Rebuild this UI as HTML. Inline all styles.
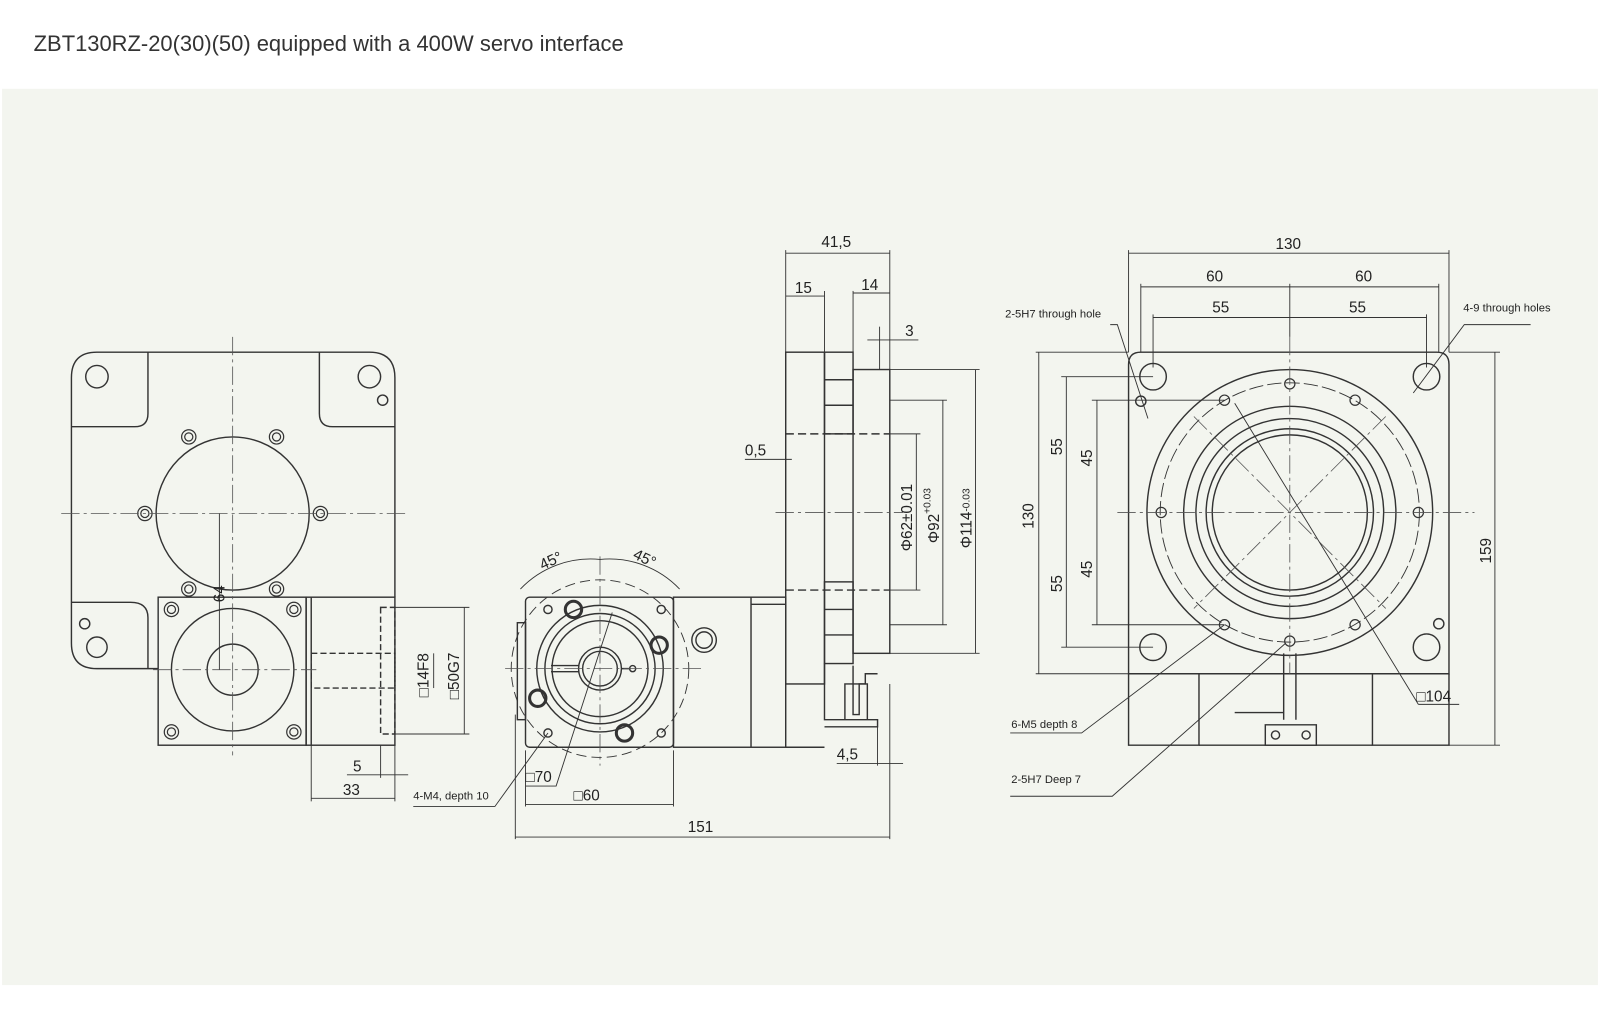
<!DOCTYPE html>
<html><head><meta charset="utf-8"><style>
html,body{margin:0;padding:0;background:#fff}
svg{display:block}
text{font-family:"Liberation Sans",sans-serif;fill:#222}
</style></head><body>
<svg width="1600" height="1029" viewBox="0 0 1568 1008" preserveAspectRatio="none" xmlns="http://www.w3.org/2000/svg">
<rect x="0" y="0" width="1568" height="1008" fill="#fff"/>
<text x="33" y="50" font-size="21.5" style="fill:#333">ZBT130RZ-20(30)(50) equipped with a 400W servo interface</text>
<rect x="2" y="87" width="1564" height="878" fill="#f3f5ef"/>

<g fill="none" stroke="#333" stroke-width="1.4">
<path d="M95,345 H362 Q387,345 387,370 V585 M70,370 Q70,345 95,345 M70,370 V630 Q70,655 95,655 H155"/>
<path d="M145,345 V405 Q145,418 132,418 H70 M313,345 V405 Q313,418 326,418 H387"/>
<path d="M70,590 H128 Q145,590 145,605 V655"/>
<rect x="155" y="585" width="145" height="145"/>
<rect x="300" y="585" width="87" height="145"/>
<line x1="305" y1="585" x2="305" y2="730"/>
<rect x="373" y="595" width="14" height="124" stroke-dasharray="6,3"/>
<rect x="305" y="640" width="82" height="34" stroke-dasharray="6,3"/>
<circle cx="228" cy="503" r="75"/>
<circle cx="228" cy="656" r="60"/>
<circle cx="228" cy="656" r="25"/>
<circle cx="95" cy="369" r="11"/><circle cx="362" cy="369" r="11"/><circle cx="375" cy="392" r="5"/>
<circle cx="95" cy="634" r="10"/><circle cx="83" cy="611" r="5"/>
<g stroke-width="1.2">
<circle cx="185" cy="428" r="7"/><circle cx="185" cy="428" r="4"/>
<circle cx="271" cy="428" r="7"/><circle cx="271" cy="428" r="4"/>
<circle cx="142" cy="503" r="7"/><circle cx="142" cy="503" r="4"/>
<circle cx="314" cy="503" r="7"/><circle cx="314" cy="503" r="4"/>
<circle cx="185" cy="577" r="7"/><circle cx="185" cy="577" r="4"/>
<circle cx="271" cy="577" r="7"/><circle cx="271" cy="577" r="4"/>
<circle cx="168" cy="597" r="7"/><circle cx="168" cy="597" r="4"/>
<circle cx="288" cy="597" r="7"/><circle cx="288" cy="597" r="4"/>
<circle cx="168" cy="717" r="7"/><circle cx="168" cy="717" r="4"/>
<circle cx="288" cy="717" r="7"/><circle cx="288" cy="717" r="4"/>
</g>

<rect x="515" y="585" width="145" height="147" rx="4"/>
<rect x="507" y="610" width="8" height="95"/>
<circle cx="588" cy="655" r="62"/>
<circle cx="588" cy="655" r="54"/>
<circle cx="588" cy="655" r="47"/>
<circle cx="588" cy="655" r="21"/><circle cx="588" cy="655" r="17"/>
<path d="M540,652 H567 M540,658 H567 M609,655 H618"/><circle cx="620" cy="655" r="3"/>
<circle cx="588" cy="655" r="87" stroke-dasharray="10,5" stroke-width="0.9"/>
<circle cx="537" cy="597" r="4"/><circle cx="648" cy="597" r="4"/><circle cx="537" cy="718" r="4"/><circle cx="648" cy="718" r="4"/>
<g stroke-width="3"><circle cx="562" cy="597" r="8"/><circle cx="646" cy="632" r="8"/><circle cx="527" cy="684" r="8"/><circle cx="612" cy="718" r="8"/></g>
<rect x="660" y="585" width="110" height="147"/>
<line x1="736" y1="585" x2="736" y2="732"/>
<line x1="736" y1="592" x2="770" y2="592"/>
<circle cx="690" cy="627" r="12"/><circle cx="690" cy="627" r="8"/>
<line x1="770" y1="732" x2="808" y2="732"/>

<rect x="770" y="345" width="38" height="325"/>
<rect x="808" y="345" width="28" height="80"/>
<rect x="808" y="570" width="28" height="80"/>
<line x1="808" y1="372" x2="836" y2="372"/><line x1="808" y1="397" x2="836" y2="397"/>
<line x1="808" y1="597" x2="836" y2="597"/><line x1="808" y1="622" x2="836" y2="622"/>
<rect x="836" y="362" width="36" height="278"/>
<line x1="770" y1="425" x2="872" y2="425" stroke-dasharray="8,4"/>
<line x1="770" y1="578" x2="872" y2="578" stroke-dasharray="8,4"/>
<path d="M808,650 V705 H828 V670 H850 V705 H860 M808,705 H860 V712 H808"/>
<path d="M836,652 V700 H842 V670 H848 V660 H860"/>

<path d="M1118,345 H1408 Q1420,345 1420,357 V660 H1106 V357 Q1106,345 1118,345 Z"/>
<path d="M1106,660 V730 H1175 V660 M1345,660 V730 H1420 V660"/>
<path d="M1175,730 H1345"/>
<circle cx="1264" cy="502" r="140"/>
<circle cx="1264" cy="502" r="127" stroke-dasharray="14,4" stroke-width="0.9"/>
<circle cx="1264" cy="502" r="104"/>
<circle cx="1264" cy="502" r="92"/>
<circle cx="1264" cy="502" r="82"/>
<circle cx="1264" cy="502" r="76"/>
<circle cx="1130" cy="369" r="13"/><circle cx="1398" cy="369" r="13"/>
<circle cx="1130" cy="634" r="13"/><circle cx="1398" cy="634" r="13"/>
<circle cx="1118" cy="393" r="5"/><circle cx="1410" cy="611" r="5"/>
<g stroke-width="1.2">
<circle cx="1264" cy="376" r="5"/><circle cx="1200" cy="392" r="5"/><circle cx="1328" cy="392" r="5"/>
<circle cx="1138" cy="502" r="5"/><circle cx="1390" cy="502" r="5"/>
<circle cx="1200" cy="612" r="5"/><circle cx="1328" cy="612" r="5"/><circle cx="1264" cy="628" r="5"/>
</g>
<path d="M1258,640 V705 M1270,640 V705 M1240,710 H1290 V730 H1240 Z M1210,698 H1258"/>
<circle cx="1250" cy="720" r="4"/><circle cx="1280" cy="720" r="4"/>
</g>

<g stroke="#555" stroke-width="0.8" stroke-dasharray="18,4,3,4" fill="none">
<line x1="60" y1="503" x2="398" y2="503"/><line x1="228" y1="330" x2="228" y2="740"/>
<line x1="150" y1="656" x2="310" y2="656"/>
<line x1="495" y1="655" x2="690" y2="655"/><line x1="588" y1="545" x2="588" y2="750"/>
<line x1="760" y1="502" x2="885" y2="502"/>
<line x1="1095" y1="502" x2="1445" y2="502"/><line x1="1264" y1="330" x2="1264" y2="660"/>
<line x1="1170" y1="408" x2="1358" y2="596"/><line x1="1358" y1="408" x2="1170" y2="596"/>
</g>

<g stroke="#333" stroke-width="0.9" fill="none">
<line x1="215" y1="503" x2="215" y2="656"/>
<line x1="305" y1="730" x2="305" y2="785"/><line x1="387" y1="730" x2="387" y2="785"/><line x1="373" y1="730" x2="373" y2="762"/>
<line x1="305" y1="782" x2="387" y2="782"/><line x1="340" y1="759" x2="400" y2="759"/>
<line x1="387" y1="595" x2="460" y2="595"/><line x1="387" y1="719" x2="460" y2="719"/>
<line x1="455" y1="595" x2="455" y2="719"/><line x1="425" y1="640" x2="425" y2="674"/>
<line x1="505" y1="700" x2="505" y2="822"/><line x1="872" y1="670" x2="872" y2="822"/>
<line x1="505" y1="820" x2="872" y2="820"/>
<line x1="515" y1="735" x2="515" y2="790"/><line x1="660" y1="735" x2="660" y2="790"/>
<line x1="515" y1="788" x2="660" y2="788"/>
<path d="M510,577 A95,95 0 0 1 588,548 A95,95 0 0 1 666,577"/>
<line x1="770" y1="245" x2="770" y2="345"/><line x1="872" y1="245" x2="872" y2="362"/>
<line x1="770" y1="248" x2="872" y2="248"/>
<line x1="808" y1="285" x2="808" y2="345"/><line x1="836" y1="285" x2="836" y2="345"/>
<line x1="770" y1="290" x2="808" y2="290"/><line x1="836" y1="287" x2="872" y2="287"/>
<line x1="862" y1="320" x2="862" y2="362"/><line x1="850" y1="333" x2="900" y2="333"/>
<line x1="730" y1="450" x2="776" y2="450"/>
<line x1="872" y1="362" x2="960" y2="362"/><line x1="872" y1="640" x2="960" y2="640"/>
<line x1="956" y1="362" x2="956" y2="640"/>
<line x1="872" y1="392" x2="928" y2="392"/><line x1="872" y1="612" x2="928" y2="612"/>
<line x1="924" y1="392" x2="924" y2="612"/>
<line x1="872" y1="425" x2="902" y2="425"/><line x1="872" y1="578" x2="902" y2="578"/>
<line x1="898" y1="425" x2="898" y2="578"/>
<line x1="860" y1="712" x2="860" y2="750"/><line x1="820" y1="748" x2="885" y2="748"/>
<line x1="1106" y1="245" x2="1106" y2="345"/><line x1="1420" y1="245" x2="1420" y2="345"/>
<line x1="1106" y1="248" x2="1420" y2="248"/>
<line x1="1118" y1="278" x2="1118" y2="345"/><line x1="1410" y1="278" x2="1410" y2="345"/>
<line x1="1118" y1="281" x2="1410" y2="281"/><line x1="1264" y1="278" x2="1264" y2="330"/>
<line x1="1130" y1="308" x2="1130" y2="360"/><line x1="1398" y1="308" x2="1398" y2="360"/>
<line x1="1130" y1="311" x2="1398" y2="311"/>
<line x1="1015" y1="345" x2="1106" y2="345"/><line x1="1015" y1="660" x2="1106" y2="660"/>
<line x1="1018" y1="345" x2="1018" y2="660"/>
<line x1="1040" y1="369" x2="1130" y2="369"/><line x1="1040" y1="634" x2="1130" y2="634"/>
<line x1="1045" y1="369" x2="1045" y2="634"/>
<line x1="1070" y1="392" x2="1200" y2="392"/><line x1="1070" y1="612" x2="1200" y2="612"/>
<line x1="1075" y1="392" x2="1075" y2="612"/>
<line x1="1420" y1="345" x2="1470" y2="345"/><line x1="1420" y1="730" x2="1470" y2="730"/>
<line x1="1465" y1="345" x2="1465" y2="730"/>
<path d="M1088,318 H1095 L1125,410"/>
<path d="M1500,318 H1435 L1385,385"/>
<path d="M990,718 H1060 L1200,612"/>
<path d="M990,780 H1090 L1260,630"/>
<path d="M1390,690 H1430 M1390,690 L1210,395"/>
<path d="M405,790 H485 L537,718"/>
<path d="M515,770 H545 L600,600"/>
</g>

<g font-size="15">
<text x="200" y="590" transform="rotate(-90 210 580)">64</text>
<text x="346" y="756">5</text><text x="336" y="779">33</text>
<text x="0" y="0" transform="translate(420,683) rotate(-90)">□14F8</text>
<text x="0" y="0" transform="translate(450,685) rotate(-90)">□50G7</text>
<text x="528" y="554" transform="rotate(-25 540 548)">45°</text>
<text x="620" y="552" transform="rotate(25 632 548)">45°</text>
<text x="515" y="766">□70</text><text x="562" y="784">□60</text>
<text x="674" y="815">151</text>
<text x="805" y="242">41,5</text><text x="779" y="287">15</text><text x="844" y="284">14</text>
<text x="887" y="329">3</text><text x="730" y="446">0,5</text><text x="820" y="744">4,5</text>
<text x="0" y="0" transform="translate(894,540) rotate(-90)">Φ62±0.01</text>
<text x="0" y="0" transform="translate(920,532) rotate(-90)">Φ92<tspan font-size="10" dy="-8">+0.03</tspan></text>
<text x="0" y="0" transform="translate(952,537) rotate(-90)">Φ114<tspan font-size="10" dy="-2">-0.03</tspan></text>
<text x="1250" y="244">130</text><text x="1182" y="276">60</text><text x="1328" y="276">60</text>
<text x="1188" y="306">55</text><text x="1322" y="306">55</text>
<text x="0" y="0" transform="translate(1013,518) rotate(-90)">130</text>
<text x="0" y="0" transform="translate(1041,446) rotate(-90)">55</text>
<text x="0" y="0" transform="translate(1041,580) rotate(-90)">55</text>
<text x="0" y="0" transform="translate(1070,457) rotate(-90)">45</text>
<text x="0" y="0" transform="translate(1070,566) rotate(-90)">45</text>
<text x="0" y="0" transform="translate(1461,552) rotate(-90)">159</text>
<text x="1388" y="687">□104</text>
</g>
<g font-size="11">
<text x="985" y="311">2-5H7 through hole</text>
<text x="1434" y="305">4-9 through holes</text>
<text x="991" y="713">6-M5 depth 8</text>
<text x="991" y="767">2-5H7 Deep 7</text>
<text x="405" y="783">4-M4, depth 10</text>
</g>
</svg>
</body></html>
